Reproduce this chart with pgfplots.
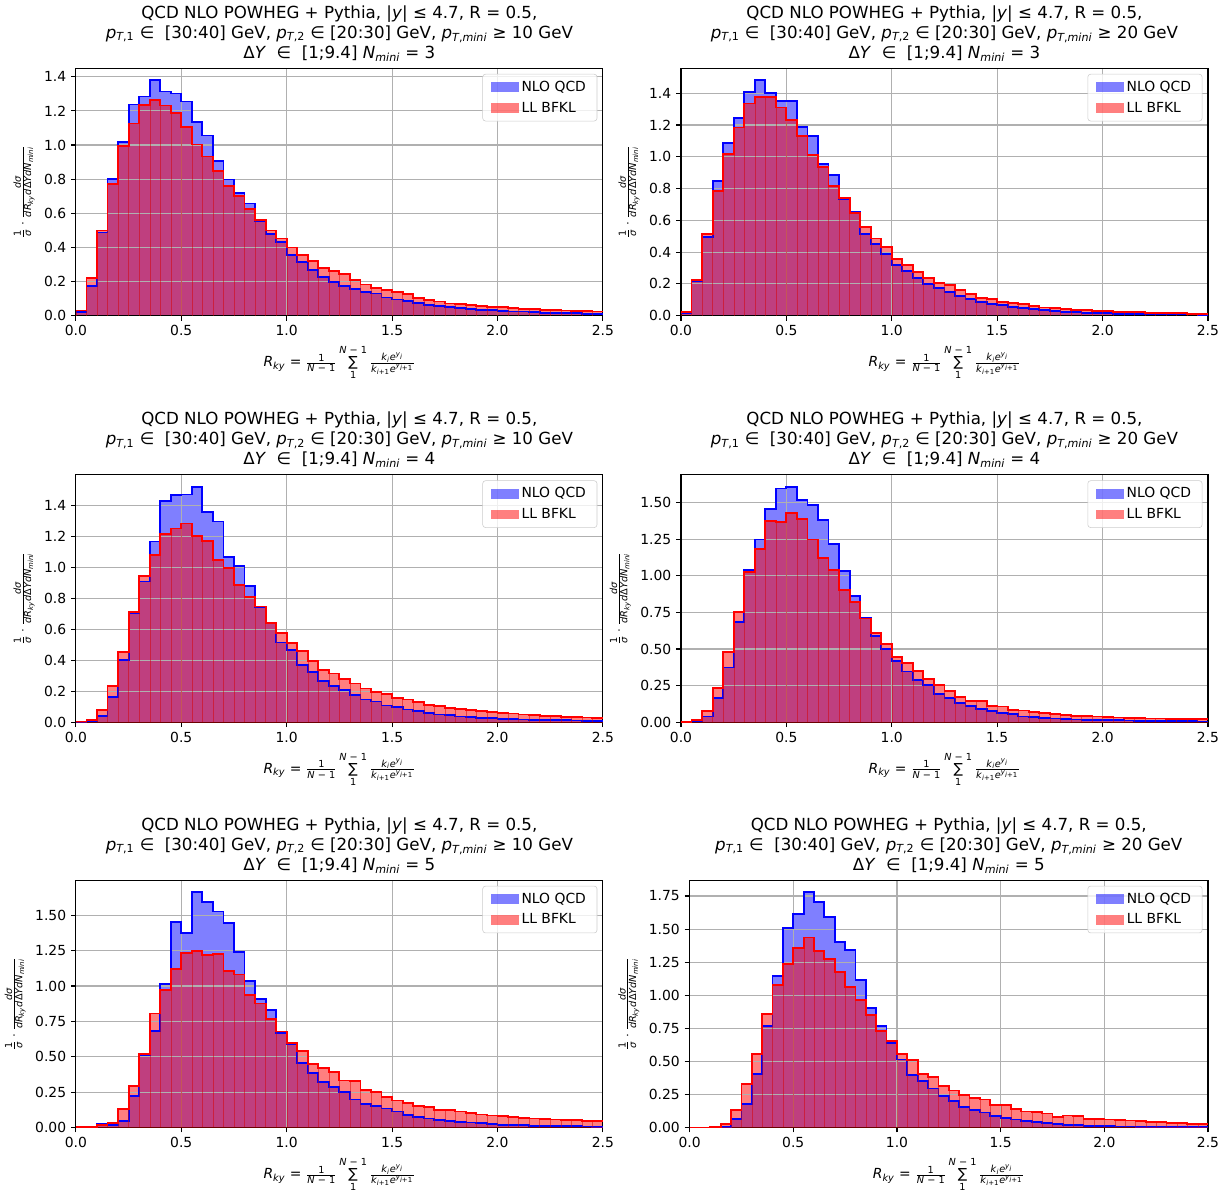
\documentclass[border=0pt]{standalone}
\usepackage{fontspec}
\setmainfont{DejaVu Sans}
\usepackage{amsmath}
\usepackage{pgfplots}
\pgfplotsset{compat=1.18}
\usepackage{pgfplotstable}

\definecolor{mgrid}{HTML}{B0B0B0}
\definecolor{mblue}{HTML}{0000FF}
\definecolor{mred}{HTML}{FF0000}
\definecolor{mleg}{HTML}{CCCCCC}

\pgfplotstableread{
x b r
0.00 0.020 0.030
0.05 0.176 0.219
0.10 0.487 0.499
0.15 0.800 0.772
0.20 1.019 0.995
0.25 1.237 1.126
0.30 1.284 1.234
0.35 1.380 1.263
0.40 1.314 1.232
0.45 1.302 1.189
0.50 1.255 1.107
0.55 1.136 1.003
0.60 1.056 0.933
0.65 0.907 0.847
0.70 0.798 0.760
0.75 0.721 0.702
0.80 0.657 0.624
0.85 0.555 0.559
0.90 0.477 0.499
0.95 0.432 0.452
1.00 0.356 0.399
1.05 0.315 0.356
1.10 0.270 0.321
1.15 0.225 0.280
1.20 0.196 0.264
1.25 0.176 0.242
1.30 0.158 0.209
1.35 0.140 0.183
1.40 0.130 0.162
1.45 0.106 0.152
1.50 0.095 0.138
1.55 0.087 0.126
1.60 0.073 0.102
1.65 0.063 0.093
1.70 0.055 0.083
1.75 0.051 0.071
1.80 0.043 0.069
1.85 0.039 0.061
1.90 0.035 0.057
1.95 0.032 0.051
2.00 0.028 0.049
2.05 0.024 0.043
2.10 0.024 0.041
2.15 0.020 0.037
2.20 0.018 0.033
2.25 0.016 0.032
2.30 0.014 0.030
2.35 0.014 0.026
2.40 0.012 0.026
2.45 0.012 0.024
2.50 0.012 0.024
}\tA

\pgfplotstableread{
x b r
0.00 0.017 0.025
0.05 0.218 0.224
0.10 0.495 0.514
0.15 0.849 0.786
0.20 1.088 1.017
0.25 1.243 1.184
0.30 1.409 1.335
0.35 1.482 1.377
0.40 1.402 1.375
0.45 1.352 1.310
0.50 1.352 1.232
0.55 1.186 1.128
0.60 1.128 1.012
0.65 0.954 0.933
0.70 0.885 0.817
0.75 0.731 0.738
0.80 0.656 0.648
0.85 0.514 0.560
0.90 0.451 0.486
0.95 0.390 0.434
1.00 0.319 0.358
1.05 0.283 0.319
1.10 0.239 0.277
1.15 0.201 0.237
1.20 0.172 0.208
1.25 0.149 0.192
1.30 0.124 0.161
1.35 0.105 0.134
1.40 0.084 0.113
1.45 0.075 0.103
1.50 0.065 0.084
1.55 0.054 0.082
1.60 0.048 0.073
1.65 0.040 0.061
1.70 0.036 0.052
1.75 0.029 0.048
1.80 0.025 0.042
1.85 0.023 0.038
1.90 0.019 0.034
1.95 0.017 0.030
2.00 0.015 0.029
2.05 0.013 0.025
2.10 0.011 0.023
2.15 0.011 0.021
2.20 0.009 0.019
2.25 0.009 0.017
2.30 0.007 0.015
2.35 0.007 0.015
2.40 0.007 0.013
2.45 0.005 0.013
2.50 0.005 0.013
}\tB

\pgfplotstableread{
x b r
0.00 0.002 0.004
0.05 0.010 0.014
0.10 0.041 0.077
0.15 0.161 0.232
0.20 0.404 0.453
0.25 0.704 0.712
0.30 0.908 0.942
0.35 1.167 1.082
0.40 1.429 1.215
0.45 1.468 1.251
0.50 1.470 1.283
0.55 1.521 1.200
0.60 1.358 1.172
0.65 1.296 1.049
0.70 1.065 0.994
0.75 1.011 0.888
0.80 0.882 0.807
0.85 0.745 0.747
0.90 0.639 0.640
0.95 0.515 0.577
1.00 0.468 0.511
1.05 0.369 0.461
1.10 0.326 0.393
1.15 0.268 0.335
1.20 0.236 0.315
1.25 0.207 0.280
1.30 0.177 0.250
1.35 0.147 0.218
1.40 0.134 0.194
1.45 0.108 0.181
1.50 0.097 0.155
1.55 0.082 0.147
1.60 0.071 0.132
1.65 0.058 0.110
1.70 0.050 0.104
1.75 0.045 0.091
1.80 0.037 0.084
1.85 0.032 0.080
1.90 0.028 0.071
1.95 0.026 0.065
2.00 0.022 0.060
2.05 0.019 0.056
2.10 0.017 0.050
2.15 0.015 0.045
2.20 0.014 0.041
2.25 0.013 0.039
2.30 0.012 0.035
2.35 0.011 0.032
2.40 0.010 0.030
2.45 0.009 0.026
2.50 0.009 0.026
}\tC

\pgfplotstableread{
x b r
0.00 0.000 0.004
0.05 0.009 0.016
0.10 0.039 0.079
0.15 0.163 0.236
0.20 0.374 0.481
0.25 0.683 0.753
0.30 1.039 1.028
0.35 1.248 1.182
0.40 1.457 1.377
0.45 1.597 1.366
0.50 1.609 1.430
0.55 1.520 1.389
0.60 1.486 1.248
0.65 1.384 1.123
0.70 1.218 1.041
0.75 1.032 0.905
0.80 0.862 0.821
0.85 0.715 0.708
0.90 0.590 0.608
0.95 0.501 0.533
1.00 0.420 0.447
1.05 0.347 0.406
1.10 0.286 0.349
1.15 0.256 0.297
1.20 0.195 0.256
1.25 0.168 0.215
1.30 0.132 0.173
1.35 0.109 0.145
1.40 0.089 0.143
1.45 0.075 0.111
1.50 0.061 0.107
1.55 0.055 0.084
1.60 0.039 0.080
1.65 0.034 0.068
1.70 0.027 0.061
1.75 0.025 0.055
1.80 0.020 0.050
1.85 0.018 0.045
1.90 0.016 0.043
1.95 0.015 0.039
2.00 0.014 0.034
2.05 0.013 0.032
2.10 0.011 0.030
2.15 0.010 0.027
2.20 0.009 0.025
2.25 0.008 0.025
2.30 0.007 0.023
2.35 0.007 0.023
2.40 0.006 0.020
2.45 0.005 0.023
2.50 0.005 0.023
}\tD

\pgfplotstableread{
x b r
0.00 0.003 0.003
0.05 0.002 0.002
0.10 0.028 0.016
0.15 0.019 0.033
0.20 0.049 0.134
0.25 0.221 0.296
0.30 0.510 0.522
0.35 0.681 0.806
0.40 1.015 0.970
0.45 1.452 1.121
0.50 1.372 1.231
0.55 1.664 1.250
0.60 1.593 1.222
0.65 1.527 1.227
0.70 1.443 1.104
0.75 1.243 1.081
0.80 1.034 0.935
0.85 0.907 0.877
0.90 0.829 0.768
0.95 0.667 0.679
1.00 0.590 0.599
1.05 0.458 0.543
1.10 0.385 0.451
1.15 0.324 0.423
1.20 0.289 0.395
1.25 0.252 0.332
1.30 0.199 0.327
1.35 0.168 0.263
1.40 0.152 0.254
1.45 0.135 0.218
1.50 0.114 0.192
1.55 0.088 0.175
1.60 0.076 0.154
1.65 0.064 0.145
1.70 0.055 0.126
1.75 0.047 0.123
1.80 0.040 0.114
1.85 0.036 0.102
1.90 0.031 0.092
1.95 0.026 0.085
2.00 0.021 0.083
2.05 0.020 0.073
2.10 0.017 0.069
2.15 0.014 0.064
2.20 0.013 0.059
2.25 0.012 0.057
2.30 0.010 0.054
2.35 0.009 0.052
2.40 0.008 0.047
2.45 0.007 0.047
2.50 0.007 0.047
}\tE

\pgfplotstableread{
x b r
0.00 0.000 0.000
0.05 0.000 0.000
0.10 0.002 0.005
0.15 0.005 0.030
0.20 0.063 0.131
0.25 0.181 0.329
0.30 0.407 0.555
0.35 0.768 0.858
0.40 1.145 1.077
0.45 1.506 1.237
0.50 1.614 1.360
0.55 1.780 1.436
0.60 1.702 1.333
0.65 1.592 1.275
0.70 1.401 1.177
0.75 1.340 1.062
0.80 1.114 0.964
0.85 0.904 0.851
0.90 0.768 0.730
0.95 0.640 0.655
1.00 0.515 0.557
1.05 0.399 0.512
1.10 0.351 0.402
1.15 0.296 0.382
1.20 0.241 0.316
1.25 0.199 0.280
1.30 0.154 0.245
1.35 0.134 0.225
1.40 0.114 0.212
1.45 0.086 0.169
1.50 0.071 0.169
1.55 0.061 0.139
1.60 0.048 0.121
1.65 0.040 0.119
1.70 0.033 0.106
1.75 0.025 0.081
1.80 0.020 0.091
1.85 0.018 0.086
1.90 0.013 0.066
1.95 0.010 0.066
2.00 0.010 0.061
2.05 0.008 0.058
2.10 0.008 0.053
2.15 0.005 0.048
2.20 0.005 0.045
2.25 0.003 0.040
2.30 0.003 0.035
2.35 0.003 0.035
2.40 0.003 0.030
2.45 0.003 0.028
2.50 0.003 0.028
}\tF

\newcommand{\ttl}[2]{QCD NLO POWHEG + Pythia, |\textit{y}| ≤ 4.7, R = 0.5,\\
\textit{p}\textsubscript{\textit{T},1} ∈ \ [30:40] GeV, \textit{p}\textsubscript{\textit{T},2} ∈ [20:30] GeV, \textit{p}\textsubscript{\textit{T},\textit{mini}} ≥ #1 GeV\\
Δ\textit{Y} \ ∈ \ [1;9.4] \textit{N}\textsubscript{\textit{mini}} = #2}

\newcommand{\xlab}{\textit{R}\textsubscript{\textit{ky}} = $\frac{\text{1}}{\text{\textit{N} − 1}}\mathop{\text{∑}}\limits_{\text{1}}^{\text{\textit{N} − 1}}\frac{\text{\textit{k}\textsubscript{\textit{i}}\textit{e}\textsuperscript{\textit{y}\textsubscript{\textit{i}}}}}{\text{\textit{k}\textsubscript{\textit{i}+1}\textit{e}\textsuperscript{\textit{y}\textsubscript{\textit{i}+1}}}}$}

\newcommand{\ylab}{$\frac{\text{1}}{\text{\textit{σ}}}\cdot\frac{\text{\textit{dσ}}}{\text{\textit{dR}\textsubscript{\textit{ky}}\textit{d}Δ\textit{YdN}\textsubscript{\textit{mini}}}}$}

\pgfplotsset{
  histax/.style={
    scale only axis, width=379.4pt, height=178.06pt,
    anchor=south west,
    xmin=0, xmax=2.5, ymin=0,
    xtick={0,0.5,1,1.5,2,2.5},
    xticklabels={0.0,0.5,1.0,1.5,2.0,2.5},
    grid=major, grid style={mgrid, line width=0.8pt},
    axis line style={line width=0.8pt},
    tick align=outside, tick pos=left,
    major tick length=3.5pt,
    every tick/.style={black, line width=0.8pt},
    tick label style={font=\fontsize{10}{12}\selectfont},
    /pgf/number format/assume math mode=true,
    set layers,
    title style={font=\fontsize{12}{14.4}\selectfont, align=center, inner sep=0pt, yshift=-1pt},
    label style={font=\fontsize{10}{12}\selectfont},
    xlabel={\xlab}, ylabel={\ylab},
    legend image code/.code={\fill[#1, sharp corners] (0pt,-3.5pt) rectangle (20pt,3.5pt);},
    legend style={at={(1,1)}, anchor=north east, xshift=-4pt, yshift=-4pt,
      draw=mleg, rounded corners=2pt, fill=white, fill opacity=0.8, text opacity=1,
      font=\fontsize{10}{12}\selectfont, inner xsep=6pt, inner ysep=3pt, row sep=2pt},
    legend cell align=left,
  },
  y1/.style={ymax=#1, ytick={0,0.2,0.4,0.6,0.8,1.0,1.2,1.4},
    yticklabel style={/pgf/number format/.cd, fixed, fixed zerofill, precision=1}},
  y2/.style={ymax=#1, ytick={0,0.25,0.5,0.75,1.0,1.25,1.5,1.75},
    yticklabel style={/pgf/number format/.cd, fixed, fixed zerofill, precision=2}},
}

\newcommand{\hists}[1]{%
  \addplot[forget plot, on layer=axis background, const plot, fill=mblue, fill opacity=0.5, draw=none] table[x=x,y=b]{#1} \closedcycle;
  \addplot[forget plot, const plot, mblue, line width=1.3pt] table[x=x,y=b]{#1};
  \addplot[forget plot, on layer=axis background, const plot, fill=mred, fill opacity=0.5, draw=none] table[x=x,y=r]{#1} \closedcycle;
  \addplot[forget plot, ybar interval, fill=none, draw=mred!85!black, line width=0.2pt, draw opacity=0.5] table[x=x,y=r]{#1};
  \addplot[forget plot, const plot, mred, line width=1.3pt] table[x=x,y=r]{#1};
  \addlegendimage{fill=mblue, fill opacity=0.5, draw=none}
  \addlegendentry{NLO QCD}
  \addlegendimage{fill=mred, fill opacity=0.5, draw=none}
  \addlegendentry{LL BFKL}
}

\begin{document}
\begin{tikzpicture}

\begin{axis}[histax, y1=1.449, at={(54.65pt,634.54pt)}, title={\ttl{10}{3}}]
\hists{\tA}
\end{axis}

\begin{axis}[histax, y1=1.556, at={(490.32pt,634.54pt)}, title={\ttl{20}{3}}]
\hists{\tB}
\end{axis}

\begin{axis}[histax, y1=1.597, at={(54.65pt,341.86pt)}, title={\ttl{10}{4}}]
\hists{\tC}
\end{axis}

\begin{axis}[histax, y2=1.690, at={(490.32pt,341.86pt)}, title={\ttl{20}{4}}]
\hists{\tD}
\end{axis}

\begin{axis}[histax, y2=1.747, at={(54.65pt,49.97pt)}, title={\ttl{10}{5}}]
\hists{\tE}
\end{axis}

\begin{axis}[histax, y2=1.869, width=373.25pt, at={(496.51pt,49.97pt)}, title={\ttl{20}{5}}]
\hists{\tF}
\end{axis}

\pgfresetboundingbox
\useasboundingbox (0,0) rectangle (887.04pt,861.84pt);
\end{tikzpicture}
\end{document}
